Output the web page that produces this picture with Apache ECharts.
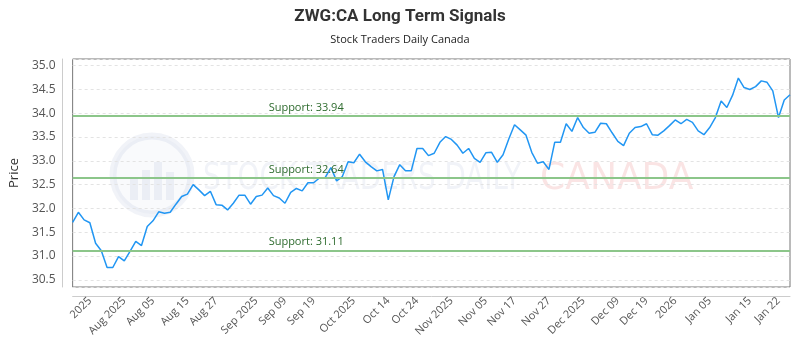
<!DOCTYPE html>
<html>
<head>
<meta charset="utf-8">
<script src="https://cdn.jsdelivr.net/npm/echarts@6/dist/echarts.min.js"></script>
<style>html,body{margin:0;padding:0;background:#fff}#c{width:800px;height:350px}</style>
</head>
<body>
<div id="c"></div>
<script>
const dates = [
'2025-07-23','2025-07-24','2025-07-25','2025-07-28','2025-07-29','2025-07-30','2025-07-31',
'2025-08-01','2025-08-05','2025-08-06','2025-08-07','2025-08-08','2025-08-11','2025-08-12','2025-08-13','2025-08-14','2025-08-15','2025-08-18','2025-08-19','2025-08-20','2025-08-21','2025-08-22','2025-08-25','2025-08-26','2025-08-27','2025-08-28','2025-08-29',
'2025-09-02','2025-09-03','2025-09-04','2025-09-05','2025-09-08','2025-09-09','2025-09-10','2025-09-11','2025-09-12','2025-09-15','2025-09-16','2025-09-17','2025-09-18','2025-09-19','2025-09-22','2025-09-23','2025-09-24','2025-09-25','2025-09-26','2025-09-29','2025-09-30',
'2025-10-01','2025-10-02','2025-10-03','2025-10-06','2025-10-07','2025-10-08','2025-10-09','2025-10-10','2025-10-14','2025-10-15','2025-10-16','2025-10-17','2025-10-20','2025-10-21','2025-10-22','2025-10-23','2025-10-24','2025-10-27','2025-10-28','2025-10-29','2025-10-30','2025-10-31',
'2025-11-03','2025-11-04','2025-11-05','2025-11-06','2025-11-07','2025-11-10','2025-11-11','2025-11-12','2025-11-13','2025-11-14','2025-11-17','2025-11-18','2025-11-19','2025-11-20','2025-11-21','2025-11-24','2025-11-25','2025-11-26','2025-11-27','2025-11-28',
'2025-12-01','2025-12-02','2025-12-03','2025-12-04','2025-12-05','2025-12-08','2025-12-09','2025-12-10','2025-12-11','2025-12-12','2025-12-15','2025-12-16','2025-12-17','2025-12-18','2025-12-19','2025-12-22','2025-12-23','2025-12-24','2025-12-29','2025-12-30','2025-12-31',
'2026-01-02','2026-01-05','2026-01-06','2026-01-07','2026-01-08','2026-01-09','2026-01-12','2026-01-13','2026-01-14','2026-01-15','2026-01-16','2026-01-19','2026-01-20','2026-01-21','2026-01-22'
];
const prices = [
31.71,31.92,31.76,31.70,31.27,31.11,30.76,30.76,30.99,30.90,31.10,31.31,31.22,31.62,31.74,31.93,31.90,31.92,32.09,32.25,32.30,32.50,32.39,32.27,32.36,32.08,32.07,31.97,32.11,32.28,32.28,32.09,
32.25,32.28,32.43,32.27,32.22,32.11,32.34,32.42,32.37,32.54,32.54,32.64,32.65,32.86,32.58,32.67,32.98,32.96,33.14,32.98,32.88,32.79,32.82,32.18,32.67,32.92,32.79,32.79,33.26,33.26,33.11,
33.16,33.39,33.51,33.45,33.33,33.16,33.26,33.05,32.97,33.17,33.18,32.97,33.13,33.46,33.76,33.65,33.54,33.18,32.95,32.98,32.82,33.39,33.39,33.78,33.62,33.91,33.70,33.58,33.60,33.79,33.78,33.59,
33.41,33.32,33.58,33.70,33.72,33.78,33.55,33.54,33.63,33.74,33.86,33.78,33.87,33.81,33.63,33.55,33.70,33.91,34.26,34.12,34.38,34.74,34.54,34.50,34.56,34.68,34.65,34.47,33.91,34.28,34.39
];
const supports = [33.94, 32.64, 31.11];
const tickIdx = [3,9,14,20,25,32,37,42,49,55,60,66,72,77,83,89,95,100,105,111,118,123];
const tickLabels = ['2025','Aug 2025','Aug 05','Aug 15','Aug 27','Sep 2025','Sep 09','Sep 19','Oct 2025','Oct 14','Oct 24','Nov 2025','Nov 05','Nov 17','Nov 27','Dec 2025','Dec 09','Dec 19','2026','Jan 05','Jan 15','Jan 22'];
const yTicks = ['30.5','31.0','31.5','32.0','32.5','33.0','33.5','34.0','34.5','35.0'];

const chart = echarts.init(document.getElementById('c'), null, {renderer:'canvas'});
const FONT = "'Open Sans', 'Noto Sans', sans-serif";
const WM = 'rgba(60,90,150,0.07)';
chart.setOption({
  animation: false,
  backgroundColor: '#fff',
  title: {
    text: 'ZWG:CA Long Term Signals',
    subtext: 'Stock Traders Daily Canada',
    left: 'center', top: 3, itemGap: 9,
    textStyle: {fontFamily: "Roboto, sans-serif", fontWeight: 'bold', fontSize: 17, color: '#333'},
    subtextStyle: {fontFamily: FONT, fontSize: 11, color: '#222'}
  },
  graphic: [
    {type: 'circle', shape: {cx: 152, cy: 175, r: 39}, style: {fill: 'rgba(90,120,180,0.04)', stroke: WM, lineWidth: 7}, silent: true, z: 0},
    {type: 'rect', shape: {x: 130, y: 178, width: 8, height: 22}, style: {fill: WM}, silent: true, z: 0},
    {type: 'rect', shape: {x: 142, y: 170, width: 8, height: 30}, style: {fill: WM}, silent: true, z: 0},
    {type: 'rect', shape: {x: 154, y: 162, width: 8, height: 38}, style: {fill: WM}, silent: true, z: 0},
    {type: 'rect', shape: {x: 166, y: 172, width: 8, height: 28}, style: {fill: WM}, silent: true, z: 0},
    {type: 'text', x: 203, y: 160, scaleX: 0.73, style: {text: 'STOCK TRADERS DAILY', font: "38px 'DejaVu Sans', sans-serif", fill: WM}, silent: true, z: 0},
    {type: 'text', x: 540, y: 160, scaleX: 0.95, style: {text: 'CANADA', font: "38px 'DejaVu Sans', sans-serif", fill: 'rgba(220,50,50,0.13)'}, silent: true, z: 0}
  ],
  grid: {left: 70, right: 10, top: 59, bottom: 63, show: true, borderColor: '#777', borderWidth: 1, containLabel: false},
  xAxis: {
    type: 'category', data: dates, boundaryGap: false,
    offset: 9,
    axisLine: {show: true, lineStyle: {color: '#ccc'}},
    axisTick: {show: false},
    splitLine: {show: false},
    axisLabel: {
      rotate: 45, fontSize: 11, color: '#555', fontFamily: FONT, margin: 3,
      interval: (i) => tickIdx.indexOf(i) >= 0,
      formatter: (v, i) => { const k = tickIdx.indexOf(i); return k >= 0 ? tickLabels[k] : ''; }
    }
  },
  yAxis: {
    type: 'value', min: 30.35, max: 35.14, splitNumber: 10,
    offset: 10,
    name: 'Price', nameLocation: 'middle', nameGap: 36,
    nameTextStyle: {fontFamily: FONT, fontSize: 13, color: '#333'},
    axisLine: {show: true, lineStyle: {color: '#ccc'}},
    axisTick: {show: false},
    splitLine: {show: true, lineStyle: {color: '#e3e3e3', type: [3, 3]}},
    axisLabel: {
      fontSize: 12, color: '#555', fontFamily: FONT, margin: 7,
      formatter: (v) => { const s = v.toFixed(1); return (yTicks.indexOf(s) >= 0 && Math.abs(v - parseFloat(s)) < 1e-6) ? s : ''; }
    }
  },
  series: [{
    type: 'line', data: prices, showSymbol: false, symbol: 'none',
    lineStyle: {color: '#2196f3', width: 1.5},
    z: 3,
    markLine: {
      silent: true, symbol: 'none',
      lineStyle: {color: '#8cc68a', width: 2, type: 'solid'},
      label: {
        position: 'insideStartTop', distance: [196, 3],
        formatter: (p) => 'Support: ' + p.value.toFixed(2),
        color: '#2e6b2e', fontSize: 11, fontFamily: FONT
      },
      data: supports.map(v => ({yAxis: v}))
    }
  }]
});
</script>
</body>
</html>
